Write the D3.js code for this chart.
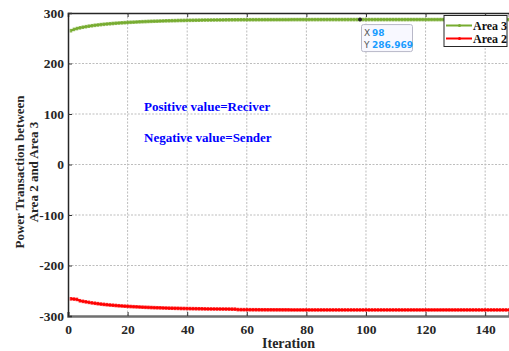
<!DOCTYPE html>
<html><head><meta charset="utf-8">
<script src="https://cdn.jsdelivr.net/npm/d3@7"></script>
<style>body{margin:0;background:#fff}svg{display:block}.tick text{font-family:"Liberation Serif","Times New Roman",serif;font-weight:bold;font-size:13.5px}</style>
</head><body><svg id="c" width="509" height="351"></svg>
<script>
const xTicks=[0,20,40,60,80,100,120,140];
const yTicks=[-300,-200,-100,0,100,200,300];
const area3=[265.0,267.5,269.2,270.6,271.8,272.9,273.9,274.8,275.6,276.3,277.0,277.6,278.2,278.7,279.2,279.7,280.1,280.5,280.9,281.3,
281.6,281.9,282.2,282.5,282.8,283.0,283.3,283.5,283.7,283.9,284.1,284.3,284.5,284.6,284.8,284.9,285.1,285.2,285.3,285.4,
285.5,285.6,285.7,285.8,285.9,286.0,286.05,286.1,286.2,286.25,286.3,286.35,286.4,286.45,286.5,286.55,286.6,286.62,286.65,286.68,
286.7,286.72,286.74,286.76,286.78,286.8,286.81,286.82,286.83,286.84,286.85,286.86,286.87,286.88,286.89,286.9,286.9,286.91,286.91,286.92,
286.92,286.93,286.93,286.94,286.94,286.95,286.95,286.95,286.96,286.96,286.96,286.96,286.96,286.97,286.97,286.97,286.97,286.969,286.97,286.97,
286.97,286.97,286.97,286.97,286.97,286.97,286.97,286.97,286.97,286.97,286.97,286.97,286.97,286.97,286.97,286.97,286.97,286.97,286.97,286.97,
286.97,286.97,286.97,286.97,286.97,286.97,286.97,286.97,286.97,286.97,286.97,286.97,286.97,286.97,286.97,286.97,286.97,286.97,286.97,286.97,
286.97,286.97,286.97,286.97,286.97,286.97,286.97,286.97];
const area2=[-266.0,-266.5,-267.2,-269.8,-271.0,-272.0,-273.0,-274.0,-274.8,-275.6,-276.4,-277.0,-277.6,-278.2,-278.7,-279.2,-279.7,-280.1,-280.5,-280.9,
-281.3,-281.6,-281.9,-282.2,-282.5,-282.8,-283.0,-283.3,-283.5,-283.7,-283.9,-284.1,-284.3,-284.5,-284.6,-284.8,-284.9,-285.1,-285.2,-285.3,
-285.4,-285.5,-285.6,-285.7,-285.8,-285.9,-286.0,-286.05,-286.1,-286.15,-286.2,-286.25,-286.3,-286.35,-286.4,-286.45,-287.3,-287.4,-287.45,-287.5,
-287.55,-287.6,-287.6,-287.65,-287.7,-287.7,-287.75,-287.75,-287.8,-287.8,-287.8,-287.85,-287.85,-287.85,-287.9,-287.9,-287.9,-287.9,-287.9,-287.9,
-287.9,-287.9,-287.9,-287.9,-287.9,-287.9,-287.9,-287.9,-287.9,-287.9,-287.9,-287.9,-287.9,-287.9,-287.9,-287.9,-287.9,-287.9,-287.9,-287.9,
-287.9,-287.9,-287.9,-287.9,-287.9,-287.9,-287.9,-287.9,-287.9,-287.9,-287.9,-287.9,-287.9,-287.9,-287.9,-287.9,-287.9,-287.9,-287.9,-287.9,
-287.9,-287.9,-287.9,-287.9,-287.9,-287.9,-287.9,-287.9,-287.9,-287.9,-287.9,-287.9,-287.9,-287.9,-287.9,-287.9,-287.9,-287.9,-287.9,-287.9,
-287.9,-287.9,-287.9,-287.9,-287.9,-287.9,-287.9,-287.9];
const seriesNames=["Area 3","Area 2"];
const colors=["#77ac30","#ff0000"];
const tipX=98, tipY=286.969;

const svg=d3.select("#c");
const L=68,T=13,R=509,B=316;
const x=d3.scaleLinear().domain([0,148]).range([L,R]);
const y=d3.scaleLinear().domain([-300,300]).range([B,T]);
const font="Liberation Serif, Times New Roman, serif";

// grid
const g=svg.append("g");
g.selectAll(".gx").data(xTicks.filter(d=>d>0)).enter().append("line")
 .attr("x1",d=>x(d)).attr("x2",d=>x(d)).attr("y1",T).attr("y2",B)
 .attr("stroke","#bdbdbd").attr("stroke-dasharray","2,1.5").attr("stroke-width",1);
g.selectAll(".gy").data(yTicks.filter(d=>d>-300&&d<300)).enter().append("line")
 .attr("y1",d=>y(d)).attr("y2",d=>y(d)).attr("x1",L).attr("x2",R)
 .attr("stroke","#bdbdbd").attr("stroke-dasharray","2,1.5").attr("stroke-width",1);

// lines
const data=[area3,area2];
const line=d3.line().x((d,i)=>x(i+1)).y(d=>y(d));
data.forEach((arr,k)=>{
  svg.append("path").datum(arr).attr("d",line).attr("fill","none")
   .attr("stroke",colors[k]).attr("stroke-width",2);
  svg.append("g").selectAll("rect").data(arr).enter().append("rect")
   .attr("x",(d,i)=>x(i+1)-1.3).attr("y",d=>y(d)-1.8).attr("width",2.6).attr("height",3.6)
   .attr("fill",colors[k]).attr("opacity",0.85);
});

// axes
const fmt=d=>String(d).replace("\u2212","-");
const xa=svg.append("g").attr("transform",`translate(0,${B})`)
 .call(d3.axisBottom(x).tickValues(xTicks).tickSize(-4).tickPadding(8).tickFormat(fmt));
xa.select(".domain").attr("stroke","#707070").attr("stroke-width",2.5);
xa.selectAll(".tick line").attr("stroke","#333");
const xt=svg.append("g").attr("transform",`translate(0,${T})`)
 .call(d3.axisTop(x).tickValues(xTicks).tickSize(-4).tickFormat(""));
xt.select(".domain").attr("stroke","#262626").attr("stroke-width",1.5);
xt.selectAll(".tick line").attr("stroke","#333");
const ya=svg.append("g").attr("transform",`translate(${L},0)`)
 .call(d3.axisLeft(y).tickValues(yTicks).tickSize(-4).tickPadding(4).tickFormat(fmt));
ya.select(".domain").attr("stroke","#262626").attr("stroke-width",1.5);
ya.selectAll(".tick line").attr("stroke","#333");
[xa,ya].forEach(a=>{
  a.attr("font-family",font).attr("font-size",13.5).attr("font-weight","bold");
  a.selectAll("text").attr("font-family",font).attr("font-weight","bold").attr("font-size",13.5).attr("fill","#262626");
});

// labels
svg.append("text").attr("x",(L+R)/2).attr("y",348).attr("text-anchor","middle")
 .style("font-family",font).style("font-weight","bold").style("font-size","14px").attr("fill","#262626").text("Iteration");
const yl=svg.append("text").attr("transform",`translate(24,172) rotate(-90)`).attr("text-anchor","middle")
 .style("font-family",font).style("font-weight","bold").style("font-size","13px").attr("fill","#262626");
yl.append("tspan").attr("x",0).attr("dy",0).text("Power Transaction between");
yl.append("tspan").attr("x",0).attr("dy",14).text("Area 2 and Area 3");

// annotations
svg.append("text").attr("x",144).attr("y",111).style("font-family",font).style("font-weight","bold")
 .style("font-size","13px").attr("fill","#0000ff").text("Positive value=Reciver");
svg.append("text").attr("x",144).attr("y",142).style("font-family",font).style("font-weight","bold")
 .style("font-size","13px").attr("fill","#0000ff").text("Negative value=Sender");

// datatip
const px=x(tipX), py=y(tipY);
svg.append("rect").attr("x",px+1.5).attr("y",py+5).attr("width",51).attr("height",27).attr("rx",2)
 .attr("fill","#f8f8ff").attr("stroke","#b8b8c8");
svg.append("circle").attr("cx",px).attr("cy",py).attr("r",2).attr("fill","#222");
const tf="DejaVu Sans, Arial, sans-serif";
[["X",String(tipX),py+16],["Y",String(tipY),py+28]].forEach(r=>{
  svg.append("text").attr("x",px+4).attr("y",r[2]).style("font-family",tf).style("font-size","9px").attr("fill","#555").text(r[0]);
  svg.append("text").attr("x",px+12).attr("y",r[2]).style("font-family",tf).style("font-size","9px").style("font-weight","bold").attr("fill","#1a9cff").text(r[1]);
});

// legend
const lg=svg.append("g").attr("transform","translate(444,15.5)");
lg.append("rect").attr("width",63).attr("height",31).attr("fill","#fff").attr("stroke","#262626").attr("stroke-width",1);
seriesNames.forEach((n,i)=>{
  const yy=10+i*13;
  lg.append("line").attr("x1",2).attr("x2",28).attr("y1",yy).attr("y2",yy).attr("stroke",colors[i]).attr("stroke-width",2);
  lg.append("circle").attr("cx",15.5).attr("cy",yy).attr("r",1.5).attr("fill",colors[i]);
  lg.append("text").attr("x",29).attr("y",yy+4).style("font-family",font).style("font-weight","bold")
   .style("font-size","12px").attr("fill","#111").text(n);
});
</script></body></html>
